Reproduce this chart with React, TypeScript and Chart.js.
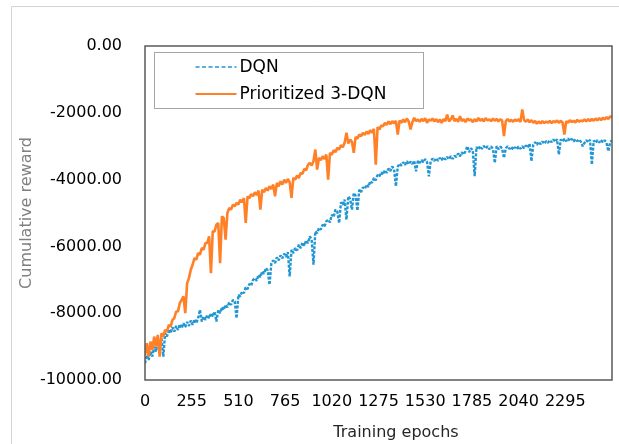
import { useEffect, useRef } from 'react';
import { Chart, registerables } from 'chart.js';

Chart.register(...registerables);

const seriesNames = ['DQN', 'Prioritized 3-DQN'];
const seriesColors = ['#2196D3', '#FF8027'];
const epochStep = 10;
const xTickLabels = [0, 255, 510, 765, 1020, 1275, 1530, 1785, 2040, 2295];
const yTickValues = [0, -2000, -4000, -6000, -8000, -10000];

const dqnReward = [
  -9500, -9250, -9400, -9150, -9300, -9000, -9150, -8850, -9000, -8750,
  -9300, -8600, -8700, -8480, -8600, -8420, -8550, -8380, -8500, -8330,
  -8450, -8300, -8420, -8260, -8380, -8220, -8350, -8180, -8300, -8150,
  -7900, -8250, -8100, -8200, -8050, -8150, -8000, -8100, -7950, -8250,
  -7900, -8000, -7820, -7900, -7750, -7820, -7680, -7750, -7600, -7650,
  -8150, -7450, -7500, -7350, -7400, -7230, -7280, -7120, -7170, -7000,
  -6950, -7030, -6850, -6920, -6750, -6820, -6650, -6720, -7150, -6500,
  -6420, -6500, -6330, -6420, -6270, -6360, -6220, -6310, -6170, -6900,
  -6100, -6200, -6050, -6120, -5950, -6050, -5880, -5980, -5820, -5900,
  -5700, -5800, -6550, -5550, -5600, -5450, -5500, -5350, -5400, -5250,
  -5200, -5280, -5050, -5120, -4900, -4950, -5300, -4680, -4750, -4600,
  -5200, -4500, -4580, -4900, -4400, -4480, -4930, -4300, -4370, -4230,
  -4280, -4150, -4220, -4050, -4100, -3950, -4020, -3860, -3900, -3780,
  -3850, -3720, -3800, -3670, -3740, -3610, -3680, -4200, -3620, -3520,
  -3580, -3480, -3560, -3450, -3540, -3460, -3530, -3440, -3750, -3440,
  -3500, -3410, -3480, -3390, -3470, -3900, -3450, -3370, -3440, -3360,
  -3440, -3350, -3420, -3330, -3400, -3320, -3390, -3300, -3380, -3290,
  -3320, -3220, -3300, -3180, -3250, -3150, -3000, -3180, -3060, -3130,
  -3900, -3020, -3100, -3000, -3080, -2990, -3070, -3000, -3090, -3010,
  -3080, -3500, -3000, -3090, -3010, -3070, -3350, -3060, -3000, -3080,
  -3020, -3100, -3030, -3090, -3010, -3080, -3000, -3060, -2980, -3040,
  -2920, -3450, -2950, -2880, -2960, -2870, -2940, -2860, -2930, -2850,
  -2900, -2820, -2880, -2800, -2870, -2790, -3250, -2800, -2860, -2780,
  -2850, -2770, -2840, -2780, -2860, -2790, -2850, -2800, -2870, -3000,
  -2900, -2820, -2880, -2810, -3550, -2830, -2900, -2820, -2890, -2810,
  -2880, -2820, -2900, -3150, -2880, -2820,
];

const prioritizedReward = [
  -9250, -8900, -9300, -8850, -9100, -8700, -9000, -8650, -9300, -8600,
  -8700, -8500, -8550, -8350, -8400, -8200, -8150, -7950, -7950, -7700,
  -7600, -7500, -8000, -7100, -6950, -6700, -6550, -6350, -6400, -6200,
  -6250, -6050, -6100, -5900, -5900, -5700, -6800, -5550, -5550, -5350,
  -5300, -6500, -5100, -5150, -5800, -5000, -4850, -4900, -4750, -4800,
  -4700, -4750, -4600, -4680, -4550, -5300, -4500, -4560, -4430, -4500,
  -4380, -4460, -4330, -4900, -4300, -4380, -4250, -4330, -4200, -4280,
  -4150, -4500, -4100, -4200, -4050, -4150, -4000, -4100, -3980, -4080,
  -4550, -3950, -4000, -3880, -3950, -3800, -3830, -3680, -3720, -3560,
  -3500, -3580, -3450, -3100, -3700, -3350, -3420, -3300, -3380, -3250,
  -4000, -3200, -3260, -3120, -3180, -3050, -3100, -2970, -3030, -2900,
  -2600, -2920, -2800, -2870, -3200, -2720, -2780, -2650, -2700, -2600,
  -2660, -2560, -2630, -2520, -2600, -2480, -3550, -2430, -2500, -2380,
  -2400, -2300, -2360, -2260, -2340, -2250, -2320, -2240, -2650, -2230,
  -2300, -2200, -2280, -2170, -2260, -2500, -2280, -2150, -2250, -2200,
  -2270, -2180, -2250, -2160, -2300, -2200, -2240, -2170, -2260, -2190,
  -2280, -2200, -2300, -2190, -2250, -2050, -2260, -2200, -2080, -2250,
  -2180, -2270, -2100, -2250, -2190, -2280, -2170, -2230, -2200, -2280,
  -2190, -2260, -2150, -2240, -2180, -2260, -2160, -2230, -2200, -2250,
  -2170, -2240, -2180, -2260, -2200, -2230, -2700, -2250, -2190, -2260,
  -2210, -2270, -2200, -2250, -2190, -2280, -1900, -2220, -2270, -2200,
  -2280, -2220, -2300, -2240, -2330, -2260, -2320, -2250, -2310, -2260,
  -2300, -2240, -2310, -2250, -2290, -2230, -2300, -2240, -2290, -2650,
  -2250, -2300, -2220, -2280, -2240, -2290, -2210, -2270, -2230, -2260,
  -2200, -2260, -2190, -2250, -2180, -2240, -2170, -2230, -2160, -2220,
  -2150, -2200, -2130, -2190, -2100, -2150,
];

const FONT = '"DejaVu Sans", "Liberation Sans", Arial, sans-serif';

const toPoints = (vals: number[]) => vals.map((v, i) => ({ x: i * epochStep, y: v }));

const decorPlugin = {
  id: 'decor',
  beforeDraw(chart: any) {
    const ctx = chart.ctx;
    ctx.save();
    ctx.fillStyle = '#ffffff';
    ctx.fillRect(0, 0, chart.width, chart.height);
    ctx.strokeStyle = '#d4d4d4';
    ctx.lineWidth = 1;
    ctx.beginPath();
    ctx.moveTo(11.5, chart.height + 5);
    ctx.lineTo(11.5, 6.5);
    ctx.lineTo(chart.width + 5, 6.5);
    ctx.stroke();
    ctx.restore();
  },
  afterDraw(chart: any) {
    const ctx = chart.ctx;
    const a = chart.chartArea;
    ctx.save();
    // plot area border
    ctx.strokeStyle = '#595959';
    ctx.lineWidth = 1.5;
    ctx.strokeRect(a.left, a.top, a.right - a.left, a.bottom - a.top);

    // legend box
    const lx = a.left + 9.5;
    const ly = a.top + 6.5;
    ctx.fillStyle = '#ffffff';
    ctx.fillRect(lx, ly, 269, 56);
    ctx.strokeStyle = '#a6a6a6';
    ctx.lineWidth = 1;
    ctx.strokeRect(lx, ly, 269, 56);

    const rows = [ly + 14.5, ly + 41.5];
    const legendDash = [[4, 2.5], []];
    const legendWidth = [1.6, 2];
    chart.data.datasets.forEach((ds: any, i: number) => {
      const y = rows[i];
      ctx.strokeStyle = ds.borderColor;
      ctx.lineWidth = legendWidth[i];
      ctx.setLineDash(legendDash[i]);
      ctx.beginPath();
      ctx.moveTo(lx + 41, y);
      ctx.lineTo(lx + 82, y);
      ctx.stroke();
      ctx.setLineDash([]);
      ctx.fillStyle = '#000000';
      ctx.font = `17px ${FONT}`;
      ctx.textAlign = 'left';
      ctx.textBaseline = 'middle';
      ctx.fillText(ds.label, lx + 85, y + 1);
    });

    // x axis title
    ctx.fillStyle = '#262626';
    ctx.font = `16px ${FONT}`;
    ctx.textAlign = 'center';
    ctx.textBaseline = 'middle';
    ctx.fillText('Training epochs', 396, 433);
    ctx.restore();
  },
};

export default function App() {
  const ref = useRef<HTMLCanvasElement | null>(null);

  useEffect(() => {
    if (!ref.current) return;
    const chart = new Chart(ref.current, {
      type: 'line',
      data: {
        datasets: [
          {
            label: seriesNames[0],
            data: toPoints(dqnReward),
            borderColor: seriesColors[0],
            borderWidth: 2.4,
            borderDash: [3, 1.5],
            borderJoinStyle: 'bevel',
            pointRadius: 0,
            tension: 0,
            fill: false,
            order: 2,
          },
          {
            label: seriesNames[1],
            data: toPoints(prioritizedReward),
            borderColor: seriesColors[1],
            borderWidth: 2.6,
            borderJoinStyle: 'bevel',
            pointRadius: 0,
            tension: 0,
            fill: false,
            order: 1,
          },
        ],
      },
      options: {
        animation: false,
        responsive: true,
        maintainAspectRatio: false,
        layout: { padding: { left: 0, top: 46, right: 7, bottom: 0 } },
        plugins: {
          legend: { display: false },
          tooltip: { enabled: false },
        },
        scales: {
          x: {
            type: 'linear',
            min: 0,
            max: 2550,
            grid: { display: false, drawTicks: false },
            border: { display: false },
            afterBuildTicks: (s: any) => {
              s.ticks = xTickLabels.map((v) => ({ value: v }));
            },
            afterFit: (s: any) => {
              s.height = 64;
            },
            ticks: {
              autoSkip: false,
              maxRotation: 0,
              padding: 12,
              color: '#000000',
              font: { family: FONT, size: 16 },
              callback: (v: any) => String(v),
            },
          },
          y: {
            type: 'linear',
            min: -10000,
            max: 0,
            grid: { display: false, drawTicks: false },
            border: { display: false },
            afterBuildTicks: (s: any) => {
              s.ticks = yTickValues.map((v) => ({ value: v }));
            },
            afterFit: (s: any) => {
              s.width = 145;
            },
            ticks: {
              padding: 23,
              color: '#000000',
              font: { family: FONT, size: 16 },
              callback: (v: any) => Number(v).toFixed(2),
            },
            title: {
              display: true,
              text: 'Cumulative reward',
              color: '#808080',
              font: { family: FONT, size: 16 },
              padding: { top: 17, bottom: 0 },
            },
          },
        },
      },
      plugins: [decorPlugin],
    });
    return () => chart.destroy();
  }, []);

  return (
    <div style={{ position: 'fixed', left: 0, top: 0, width: 619, height: 444, background: '#ffffff' }}>
      <canvas ref={ref} />
    </div>
  );
}
